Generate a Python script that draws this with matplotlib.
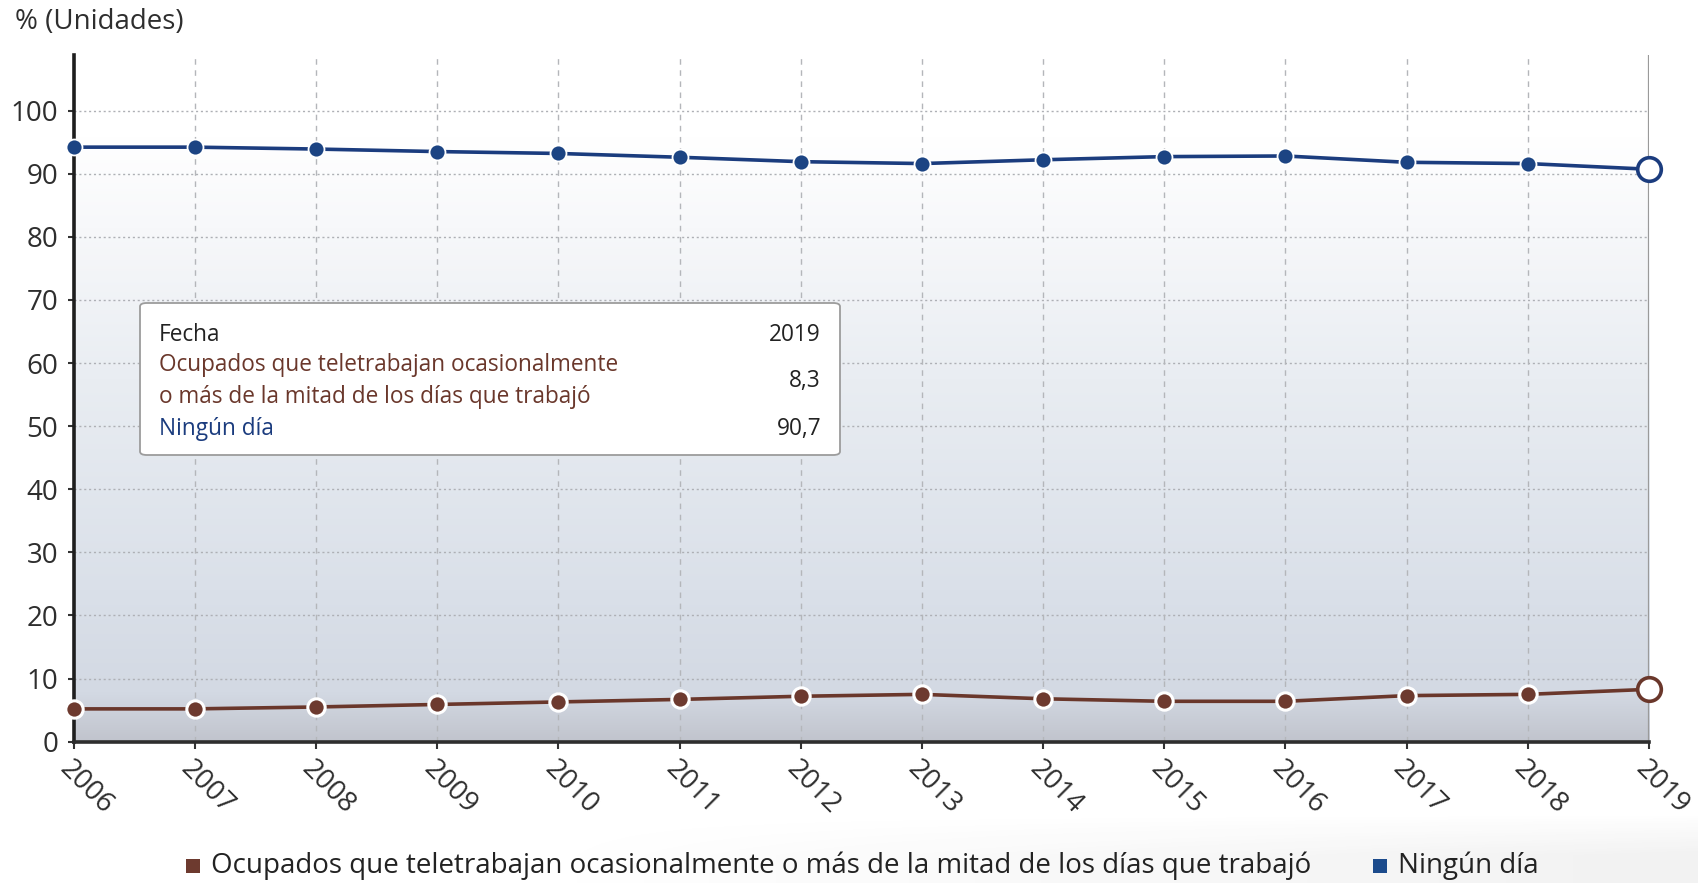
import numpy as np
import matplotlib
matplotlib.use("Agg")
import matplotlib.pyplot as plt
from matplotlib.colors import LinearSegmentedColormap
from matplotlib.patches import FancyBboxPatch, Rectangle

plt.rcParams['font.family'] = ['Open Sans', 'DejaVu Sans']

years = [2006, 2007, 2008, 2009, 2010, 2011, 2012, 2013, 2014, 2015, 2016, 2017, 2018, 2019]
ningun_dia = [94.2, 94.2, 93.9, 93.5, 93.2, 92.6, 91.9, 91.6, 92.2, 92.7, 92.8, 91.8, 91.6, 90.7]
ocasional = [5.2, 5.2, 5.5, 5.9, 6.3, 6.7, 7.2, 7.5, 6.8, 6.4, 6.4, 7.3, 7.5, 8.3]
y_ticks = [0, 10, 20, 30, 40, 50, 60, 70, 80, 90, 100]
name_ocasional = "Ocupados que teletrabajan ocasionalmente o más de la mitad de los días que trabajó"
name_ocasional_tt = "Ocupados que teletrabajan ocasionalmente\no más de la mitad de los días que trabajó"
name_ningun = "Ningún día"
axis_title = "% (Unidades)"

BLUE = "#1b3c7e"
BLUE_M = "#1c4483"
BROWN = "#6a372b"
BROWN_M = "#6d3a2f"
TXT = "#2e2e2e"

W, H = 1698, 883
fig = plt.figure(figsize=(W / 100, H / 100), dpi=100)
fig.patch.set_facecolor("white")

# faint soft shadow band behind the legend
band = fig.add_axes([0, 0, 1, 70 / H], zorder=-5)
band.axis("off")
gx = np.linspace(0, 1, 300)[None, :]
gy = np.linspace(0, 1, 60)[:, None]
alpha = np.clip((gx - 0.3) / 0.7, 0, 1) * np.clip(gy / 0.6, 0, 1) * 0.07
rgba = np.zeros((60, 300, 4))
rgba[..., :3] = 0.25
rgba[..., 3] = alpha
band.imshow(rgba, aspect="auto", extent=[0, 1, 0, 1], origin="upper")
band.set_xlim(0, 1)
band.set_ylim(0, 1)

left_px, right_px = 73.6, 1649
top_px, bottom_px = 55, 741.7
ax = fig.add_axes([left_px / W, 1 - bottom_px / H, (right_px - left_px) / W, (bottom_px - top_px) / H])

# gradient background inside plot area
cmap = LinearSegmentedColormap.from_list("bg", [(0.0, "#c1c4cd"), (0.08, "#d3d9e3"), (0.25, "#dae0e9"),
                                                (0.6, "#e9edf2"), (0.85, "#f7f8fa"), (1.0, "#ffffff")])
grad = np.linspace(0, 1, 256).reshape(-1, 1)
ax.imshow(grad, aspect="auto", cmap=cmap, origin="lower",
          extent=[years[0], years[-1], 0, 96], zorder=0)
ax.set_xlim(years[0], years[-1])
ax.set_ylim(0, 108.8)
ax.set_facecolor("white")

# grid
for yv in y_ticks[1:]:
    ax.axhline(yv, color="#aeb0b5", lw=1.0, ls=(0, (1.5, 2.0)), zorder=1)
for xv in years[1:-1]:
    ax.axvline(xv, color="#b4b6ba", lw=1.0, ls=(0, (4, 4)), zorder=1)

for s in ["top", "right"]:
    ax.spines[s].set_visible(False)
ax.spines["left"].set_linestyle((0, (1, 1)))
ax.spines["left"].set_linewidth(2.6)
ax.spines["left"].set_color("#1e1e1e")
ax.spines["bottom"].set_linestyle((0, (1, 1)))
ax.spines["bottom"].set_linewidth(2.6)
ax.spines["bottom"].set_color("#2e2e2e")

# crosshair at last point
ax.axvline(years[-1], color="#9a9a9a", lw=1.6, zorder=2)

# series
ax.plot(years, ningun_dia, color=BLUE, lw=2.6, zorder=4, clip_on=False)
ax.plot(years[:-1], ningun_dia[:-1], ls="none", marker="o", ms=11.5, mfc=BLUE_M, mec="white", mew=1.3,
        zorder=5, clip_on=False)
ax.plot(years[-1:], ningun_dia[-1:], ls="none", marker="o", ms=17, mfc="white", mec=BLUE, mew=2.6,
        zorder=6, clip_on=False)

ax.plot(years, ocasional, color=BROWN, lw=2.6, zorder=4, clip_on=False)
ax.plot(years[:-1], ocasional[:-1], ls="none", marker="o", ms=12.5, mfc=BROWN_M, mec="white", mew=2.2,
        zorder=5, clip_on=False)
ax.plot(years[-1:], ocasional[-1:], ls="none", marker="o", ms=17, mfc="white", mec=BROWN, mew=2.6,
        zorder=6, clip_on=False)

# ticks
ax.set_yticks(y_ticks)
ax.set_yticklabels([str(v) for v in y_ticks], fontsize=20, color=TXT)
ax.tick_params(axis="y", length=4, width=1.5, color="#333333", pad=7)
ax.set_xticks(years)
ax.set_xticklabels([str(v) for v in years], rotation=-45, ha="left", va="top",
                   rotation_mode="anchor", fontsize=20, color=TXT)
ax.tick_params(axis="x", length=5, width=1.5, color="#333333", pad=5)

# axis title
fig.text(15 / W, 1 - 22 / H, axis_title, fontsize=20, color=TXT, ha="left", va="center")

# tooltip
bx0, by0, bx1, by1 = 140, 303, 840, 455
box = FancyBboxPatch((bx0 / W, 1 - by1 / H), (bx1 - bx0) / W, (by1 - by0) / H,
                     boxstyle="round,pad=0,rounding_size=0.004", transform=fig.transFigure,
                     facecolor="white", edgecolor="#9c9c9c", lw=1.3, zorder=10)
fig.add_artist(box)
ts = 16.3
fig.text(159 / W, 1 - 335 / H, "Fecha", fontsize=ts, color="#222222", va="center", ha="left", zorder=11)
fig.text(821 / W, 1 - 335 / H, str(years[-1]), fontsize=ts, color="#222222", va="center", ha="right", zorder=11)
fig.text(159 / W, 1 - 381 / H, name_ocasional_tt, fontsize=ts, color=BROWN, va="center", ha="left",
         linespacing=1.4, zorder=11)
fig.text(821 / W, 1 - 381 / H, f"{ocasional[-1]:.1f}".replace(".", ","), fontsize=ts, color="#222222",
         va="center", ha="right", zorder=11)
fig.text(159 / W, 1 - 429 / H, name_ningun, fontsize=ts, color=BLUE, va="center", ha="left", zorder=11)
fig.text(821 / W, 1 - 429 / H, f"{ningun_dia[-1]:.1f}".replace(".", ","), fontsize=ts, color="#222222",
         va="center", ha="right", zorder=11)

# legend (bottom)
ly = 1 - 866 / H
fig.add_artist(Rectangle((186 / W, ly - 7 / H), 14 / W, 14 / H, transform=fig.transFigure,
                         facecolor=BROWN_M, edgecolor="none"))
fig.text(211 / W, ly, name_ocasional, fontsize=20, color="#222222", va="center", ha="left")
fig.add_artist(Rectangle((1373 / W, ly - 7 / H), 14 / W, 14 / H, transform=fig.transFigure,
                         facecolor="#1c4b8c", edgecolor="none"))
fig.text(1398 / W, ly, name_ningun, fontsize=20, color="#222222", va="center", ha="left")

fig.savefig("out.png", dpi=100)
